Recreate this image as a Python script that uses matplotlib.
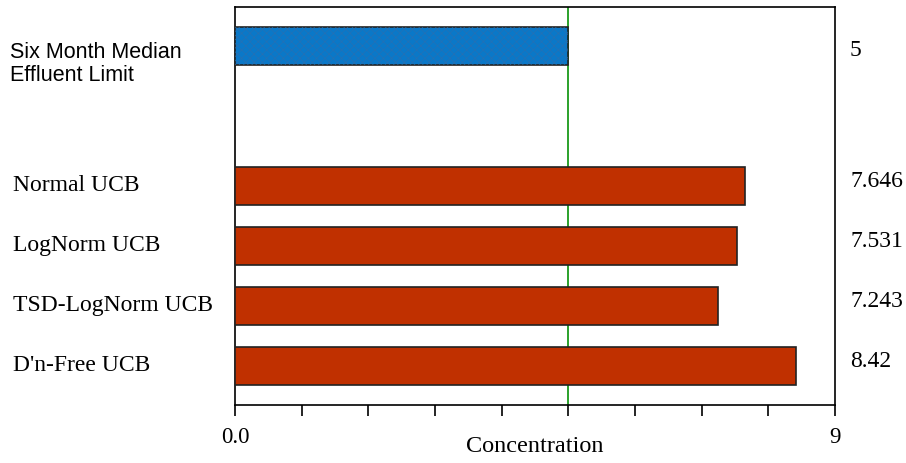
import matplotlib
matplotlib.use("Agg")
import matplotlib.pyplot as plt
from matplotlib.transforms import blended_transform_factory

# data
labels = ["D'n-Free UCB", "TSD-LogNorm UCB", "LogNorm UCB", "Normal UCB"]
values = [8.42, 7.243, 7.531, 7.646]
value_text = ["8.42", "7.243", "7.531", "7.646"]
limit_label = "Six Month Median\nEffluent Limit"
limit_value = 5
xmax = 9

plt.rcParams["hatch.linewidth"] = 0.4
serif = "Liberation Serif"

fig = plt.figure(figsize=(9.06, 4.63), dpi=100)
ax = fig.add_axes([235 / 906, 1 - 405 / 463, 600 / 906, 398 / 463])

ypos = [0, 1, 2, 3]
limit_y = 5.33
h = 0.63

ax.barh(ypos, values, height=h, color="#c03000", edgecolor="#222222", linewidth=1.2, zorder=3)
ax.barh([limit_y], [limit_value], height=h, color="#0a78c8", edgecolor="#222222", linewidth=1.2, zorder=3)
ax.barh([limit_y], [limit_value], height=h, color="none", edgecolor="#2a6fb0", hatch="xxxx",
        linewidth=0, zorder=4)
ax.axvline(limit_value, color="#1a9a1a", linewidth=1.3, zorder=2)

ax.set_xlim(0, xmax)
ax.set_ylim(-0.65, 5.98)
ax.set_xticks(range(0, xmax + 1))
ax.set_xticklabels(["0.0"] + [""] * (xmax - 1) + ["9"])
ax.tick_params(axis="x", length=8, width=1.2, pad=8, labelsize=16.5)
for t in ax.get_xticklabels():
    t.set_family(serif)
ax.set_yticks([])
for s in ax.spines.values():
    s.set_linewidth(1.2)

left = blended_transform_factory(fig.transFigure, ax.transData)
right = ax.get_yaxis_transform()

for y, lab, vt in zip(ypos, labels, value_text):
    fig.text(13 / 906, y + 0.0, lab, family=serif, fontsize=17, va="center", transform=left)
    ax.text(1.025, y + 0.07, vt, transform=right, family=serif, fontsize=17, va="center")

fig.text(10 / 906, limit_y - 0.3, limit_label, family="Liberation Sans", fontsize=15.5, va="center",
         linespacing=1.1, transform=left)
ax.text(1.025, limit_y - 0.08, str(limit_value), transform=right, family=serif,
        fontsize=17, va="center")

ax.set_xlabel("Concentration", family=serif, fontsize=17.5, labelpad=-9)

fig.savefig("out.png", dpi=100)
